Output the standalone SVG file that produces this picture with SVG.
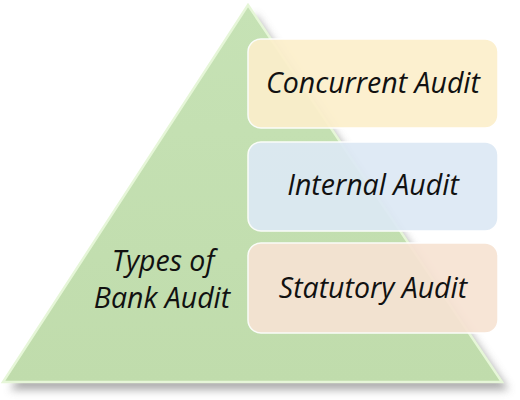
<svg xmlns="http://www.w3.org/2000/svg" width="520" height="400" viewBox="0 0 520 400">
<defs>
<filter id="sh" x="-10%" y="-10%" width="130%" height="130%">
<feGaussianBlur stdDeviation="4"/>
</filter>
<linearGradient id="g1" x1="0" y1="0" x2="0" y2="1">
<stop offset="0" stop-color="#c6e2b5"/>
<stop offset="1" stop-color="#c0dcac"/>
</linearGradient>
</defs>
<style>
.box{stroke:#ffffff;stroke-width:1.5;opacity:0.92}
.t{font-family:"Open Sans","Noto Sans","DejaVu Sans",sans-serif;font-style:italic;font-size:28.5px;fill:#111;text-anchor:middle}
.l{font-size:28.5px}
</style>
<rect width="520" height="400" fill="#ffffff"/>
<g id="pyramid">
<polygon points="255,14 509,390 10,390" fill="#9a9a9a" filter="url(#sh)" opacity="0.8"/>
<polygon points="248,5 502,382 3,382" fill="url(#g1)" stroke="#e6f6d8" stroke-width="2.5"/>
<text class="t l" x="163" y="271">Types of</text>
<text class="t l" x="162" y="308">Bank Audit</text>
</g>
<g id="concurrent">
<rect class="box" x="248" y="39" width="250" height="89" rx="13" fill="#fcefcb"/>
<text class="t" x="373" y="93">Concurrent Audit</text>
</g>
<g id="internal">
<rect class="box" x="248" y="142" width="250" height="89" rx="13" fill="#dde9f5"/>
<text class="t" x="373" y="195">Internal Audit</text>
</g>
<g id="statutory">
<rect class="box" x="248" y="243" width="250" height="90" rx="13" fill="#f7e3d3"/>
<text class="t" x="373" y="298">Statutory Audit</text>
</g>
<g id="connectors"/>
</svg>
